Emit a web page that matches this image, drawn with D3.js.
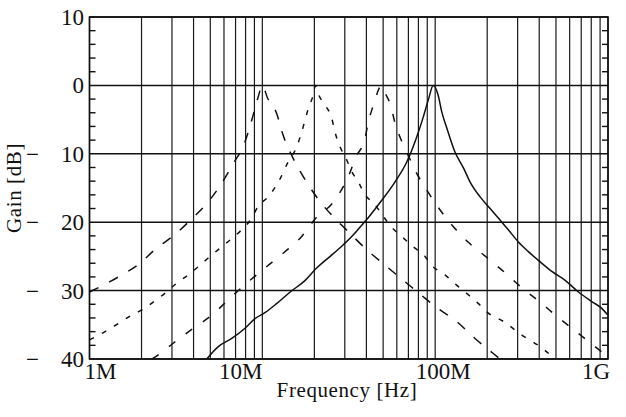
<!DOCTYPE html>
<html>
<head>
<meta charset="utf-8">
<script src="https://cdn.jsdelivr.net/npm/d3@7/dist/d3.min.js"></script>
<style>
	body { margin: 0; background: #fff; }
</style>
</head>
<body>
<svg id="chart"></svg>
<script>
// frequencies in MHz, gains in dB
const freqA = [1.0, 1.47, 1.96, 2.39, 3.05, 3.95, 4.87, 5.82, 6.8, 7.87, 8.68, 9.41, 10.0,
	10.7, 12.1, 13.2, 15.1, 17.7, 21.0, 25.7, 31.5, 39.3, 51.3, 65.5, 82.5, 99.8, 133, 170, 217, 237];
const gainA = [-30.2, -28, -26, -24, -22, -19.4, -17, -14.3, -11.4, -8.5, -5.1, -1.9, 0,
	-1.8, -4.1, -7.3, -10.7, -13.8, -16.6, -19.2, -21.4, -23.8, -26.3, -28.5, -30.6, -32.3, -34.5, -37, -39.2, -40];

const freqB = [1.0, 1.23, 1.47, 1.75, 2.05, 2.39, 2.73, 3.2, 3.73, 4.26, 4.98, 5.82, 6.65, 7.6, 8.68, 9.44,
	10.8, 12.4, 14.1, 15.8, 16.9, 18.5, 19.7, 20.3,
	21.2, 23.1, 25.2, 26.3, 28.2, 30.8, 32.9, 35.9, 39.3, 43.9, 56.3, 64.1, 74.8, 87.4, 95.5,
	114, 133, 152, 178, 203, 248, 317, 405, 494];
const gainB = [-37.2, -36, -34.8, -33.6, -32.7, -31.5, -30.4, -28.9, -27.7, -26.5, -25, -23.6, -22.4, -21.1, -19.4, -17.7,
	-16.3, -14.1, -11.2, -9, -6.8, -3.3, -1.4, 0,
	-1.4, -2.9, -4.8, -6.8, -9, -10.9, -12.6, -14.1, -16, -17.2, -20.8, -22.1, -23.6, -25, -26.3,
	-27.7, -29.2, -30.4, -31.9, -33.3, -34.5, -36.5, -38.2, -40];

const freqC = [2.3, 2.56, 3.05, 3.99, 5.1, 6.5, 8.3, 10.7, 13.4, 17.0, 20.7, 25.3, 30.1, 32.2, 34.4, 39.3, 41.1, 43.9, 46.9, 48.6,
	52.5, 54.8, 58.6, 64.1, 69.7, 76.5, 89.4, 104, 125, 155, 200, 254, 318, 405, 514, 663, 842, 1000];
const gainC = [-40, -39.2, -37.7, -35.5, -33.6, -31.1, -28.7, -26.4, -24.4, -22, -19.2, -17.3, -14.3, -12.7, -10.7, -7.7, -5.3, -2.9, -0.7, 0,
	-1.6, -2.6, -5.5, -8.2, -10.2, -12.4, -15.3, -17.8, -20.4, -22.9, -25.2, -27.4, -29.6, -31.7, -33.9, -36.1, -38.2, -39.7];

const freqD = [4.77, 5.56, 6.65, 7.94, 9.07, 10.4, 12.1, 14.5, 17.7, 20.6, 24.7, 29.4, 32.9, 36.8, 41.1, 49.1, 58.6, 68.5, 78.3, 85.4, 91.3, 97.5,
	104, 109, 117, 130, 146, 159, 182, 208, 232, 265, 303, 346, 405, 473, 565, 674, 806, 920, 1000];
const gainD = [-40, -38.2, -37, -35.5, -34.1, -33.2, -31.9, -30.2, -28.5, -26.7, -25, -23.3, -22.1, -20.7, -19.3, -16.8, -14.1, -11.2, -7.5, -4.6, -2.1, 0,
	-1.4, -3.8, -6.3, -9.7, -12.1, -14.1, -16.3, -18, -19.4, -21.1, -22.9, -24.3, -25.8, -27.2, -28.5, -30.2, -31.6, -32.6, -33.6];

const yTicks = [10, 0, -10, -20, -30, -40];
const xTicks = [1, 10, 100, 1000];
const xTickLabels = ['1M', '10M', '100M', '1G'];

const width = 626, height = 417;
const plotLeft = 89.5, plotRight = 608, plotTop = 17, plotBottom = 359;
const serif = "'Liberation Serif', 'Times New Roman', Times, 'DejaVu Serif', serif";

const xScale = d3.scaleLog().domain([1, 1000]).range([plotLeft, plotRight]);
const yScale = d3.scaleLinear().domain([-40, 10]).range([plotBottom, plotTop]);

const svg = d3.select('#chart')
	.attr('width', width)
	.attr('height', height)
	.attr('font-family', serif);

svg.append('defs').append('clipPath').attr('id', 'plot-clip')
	.append('rect')
	.attr('x', plotLeft).attr('y', plotTop)
	.attr('width', plotRight - plotLeft).attr('height', plotBottom - plotTop);

// vertical grid: every 1..9 x decade
const gridFreqs = [];
[1, 10, 100].forEach(dec => {
	for (let k = 1; k < 10; k++) gridFreqs.push(k * dec);
});
gridFreqs.push(1000);

svg.append('g')
	.selectAll('line')
	.data(gridFreqs)
	.enter()
	.append('line')
	.attr('x1', d => xScale(d)).attr('x2', d => xScale(d))
	.attr('y1', plotTop).attr('y2', plotBottom)
	.style('stroke', '#1a1a1a')
	.style('stroke-width', 1.2);

svg.append('g')
	.selectAll('line')
	.data(yTicks)
	.enter()
	.append('line')
	.attr('x1', plotLeft).attr('x2', plotRight)
	.attr('y1', d => yScale(d)).attr('y2', d => yScale(d))
	.style('stroke', '#111')
	.style('stroke-width', 1.5);

// minor ticks every 2 dB, inside on both sides
const minor = d3.range(-38, 10, 2).filter(d => d % 10 !== 0);
const minorG = svg.append('g');
minorG.selectAll('.ml')
	.data(minor)
	.enter()
	.append('line')
	.attr('x1', plotLeft).attr('x2', plotLeft + 6)
	.attr('y1', d => yScale(d)).attr('y2', d => yScale(d))
	.style('stroke', '#111').style('stroke-width', 1.4);
minorG.selectAll('.mr')
	.data(minor)
	.enter()
	.append('line')
	.attr('x1', plotRight - 6).attr('x2', plotRight)
	.attr('y1', d => yScale(d)).attr('y2', d => yScale(d))
	.style('stroke', '#111').style('stroke-width', 1.4);

svg.append('rect')
	.attr('x', plotLeft).attr('y', plotTop)
	.attr('width', plotRight - plotLeft).attr('height', plotBottom - plotTop)
	.style('fill', 'none')
	.style('stroke', '#111')
	.style('stroke-width', 1.6);

// y labels, minus sign kept apart like the original typesetting
const yLab = svg.append('g').attr('fill', '#111');
yLab.selectAll('.yv')
	.data(yTicks)
	.enter()
	.append('text')
	.attr('x', 84)
	.attr('y', d => yScale(d))
	.attr('dy', '0.35em')
	.attr('text-anchor', 'end')
	.attr('font-size', 23)
	.text(d => Math.abs(d));
yLab.selectAll('.ym')
	.data(yTicks.filter(d => d < 0))
	.enter()
	.append('text')
	.attr('x', 26)
	.attr('y', d => yScale(d))
	.attr('dy', '0.35em')
	.attr('font-size', 23)
	.text('\u2212');

const xAnchor = ['start', 'end', 'middle', 'end'];
const xShift = [-5, 0, 8, 2];
svg.append('g')
	.attr('fill', '#111')
	.selectAll('text')
	.data(xTicks)
	.enter()
	.append('text')
	.attr('x', (d, i) => xScale(d) + xShift[i])
	.attr('y', 379)
	.attr('text-anchor', (d, i) => xAnchor[i])
	.attr('font-size', 23)
	.text((d, i) => xTickLabels[i]);

svg.append('text')
	.attr('x', 347)
	.attr('y', 397)
	.attr('text-anchor', 'middle')
	.attr('font-size', 21)
	.attr('letter-spacing', 0.6)
	.attr('fill', '#111')
	.text('Frequency [Hz]');

svg.append('text')
	.attr('transform', `translate(21, ${(plotTop + plotBottom) / 2}) rotate(-90)`)
	.attr('text-anchor', 'middle')
	.attr('font-size', 21)
	.attr('letter-spacing', 0.6)
	.attr('fill', '#111')
	.text('Gain [dB]');

const line = d3.line()
	.x(d => xScale(d[0]))
	.y(d => yScale(d[1]))
	.curve(d3.curveMonotoneX);

const series = [
	{ f: freqA, g: gainA, dash: '10,12' },
	{ f: freqB, g: gainB, dash: '5,9' },
	{ f: freqC, g: gainC, dash: '8,13' },
	{ f: freqD, g: gainD, dash: null }
];

const curves = svg.append('g').attr('clip-path', 'url(#plot-clip)');
series.forEach(s => {
	curves.append('path')
		.datum(d3.zip(s.f, s.g))
		.attr('d', line)
		.style('fill', 'none')
		.style('stroke', '#111')
		.style('stroke-width', 1.5)
		.style('stroke-dasharray', s.dash);
});
</script>
</body>
</html>
